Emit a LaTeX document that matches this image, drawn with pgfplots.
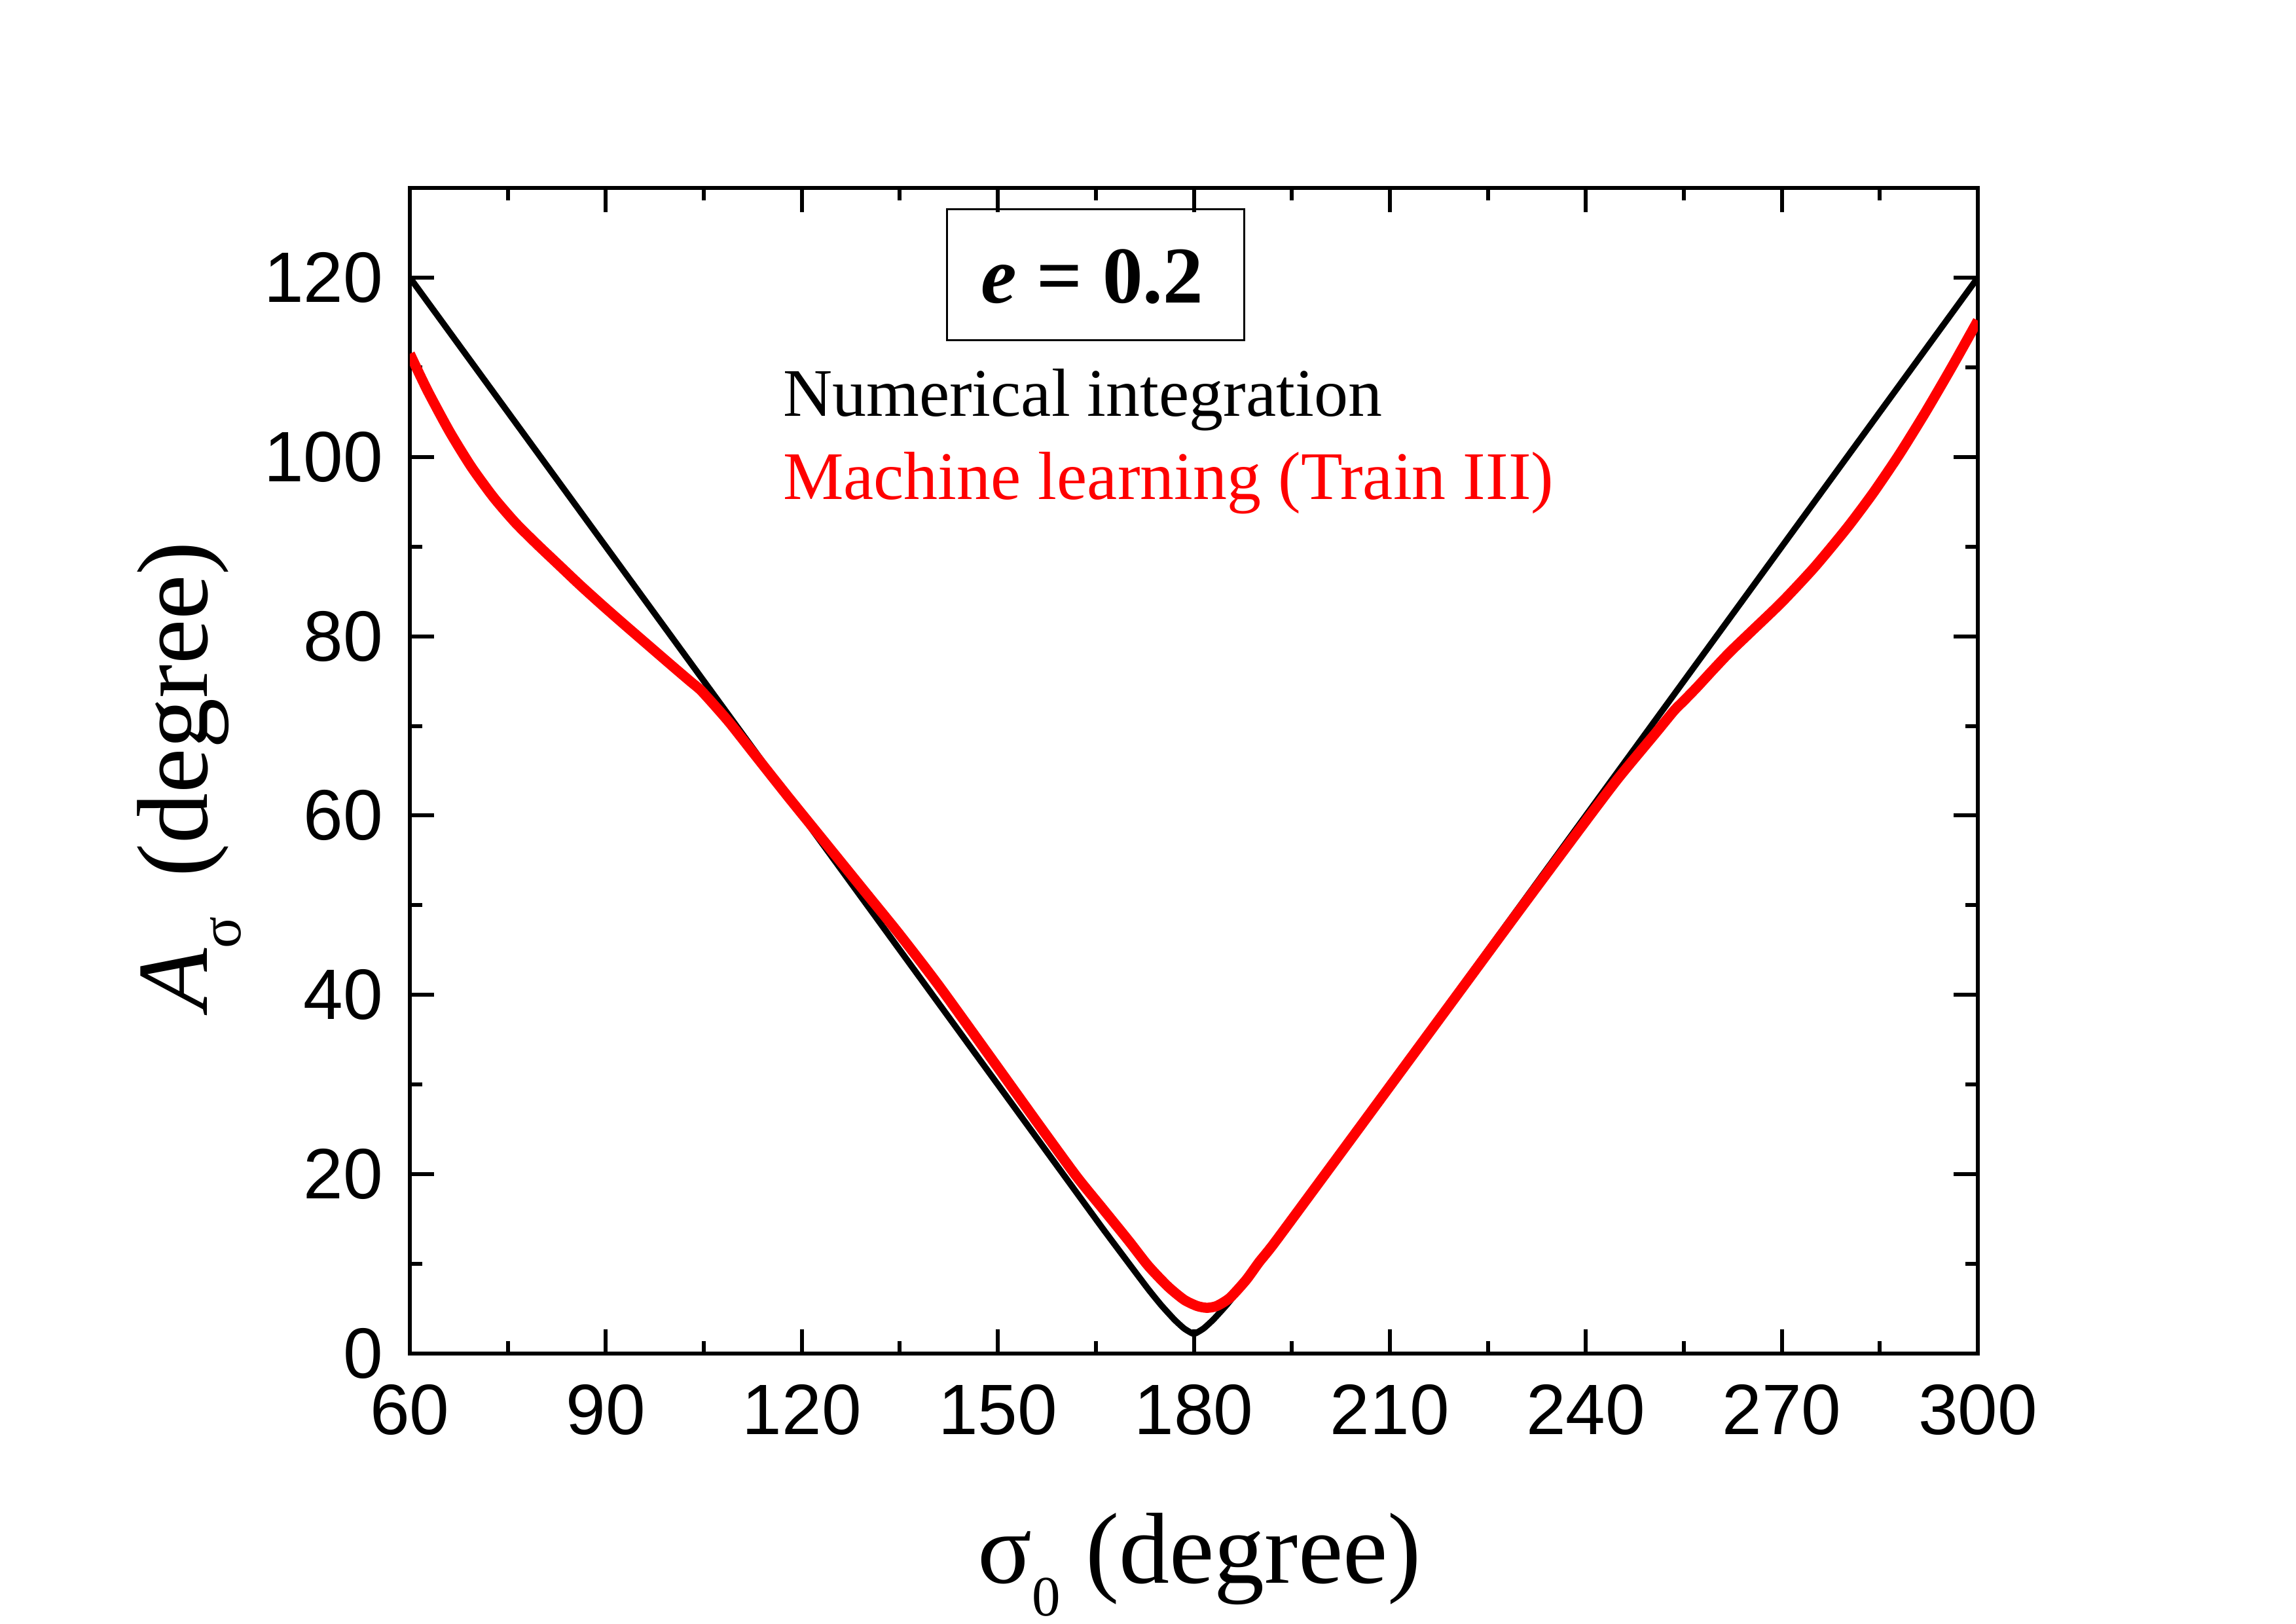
\documentclass[border=0pt]{standalone}
\usepackage{fontspec}
\setmainfont{Liberation Serif}
\newfontfamily\arialfont{Liberation Sans}
\usepackage{pgfplots}
\pgfplotsset{compat=1.18}
\definecolor{mlred}{RGB}{255,0,0}
\begin{document}
\begin{tikzpicture}
\path[use as bounding box] (0,0) rectangle (350.7pt,248pt);
\begin{axis}[
  at={(62.6pt,41.3pt)}, anchor=south west,
  width=239.5pt, height=178pt, scale only axis,
  xmin=60, xmax=300, ymin=0, ymax=130,
  xtick={60,90,...,300}, ytick={0,20,...,120},
  minor xtick={75,105,...,285}, minor ytick={10,30,...,110},
  tick align=inside, major tick length=3.7pt, minor tick length=1.9pt,
  axis line style={line width=0.65pt},
  every tick/.append style={black, line width=0.6pt},
  ticklabel style={font=\arialfont\fontsize{10.9}{12}\selectfont},
  /pgf/number format/assume math mode=true,
  xticklabel style={inner sep=0pt, anchor=north, yshift=-4.5pt},
  yticklabel style={inner sep=0pt, anchor=east, xshift=-3.9pt},
]
\addplot[black, line width=0.95pt, smooth, tension=0.3] coordinates {
(60,120) (70,110) (80,100) (90,90) (100,80) (110,70) (120,60) (130,50)
(140,40) (150,30) (160,20) (166,14) (170,10.1) (173,7.2) (175,5.4)
(177,3.8) (178.5,2.8) (180,2.2) (181.5,2.8) (183,3.8) (185,5.4) (187,7.2)
(190,10.1) (194,14) (200,20) (210,30) (220,40) (230,50) (240,60) (250,70)
(260,80) (270,90) (280,100) (290,110) (300,120)
};
\addplot[mlred, line width=1.55pt, smooth, tension=0.4] coordinates {
(60,111.5) (62.7,107.4) (66.1,102.8) (69.4,98.9) (72.8,95.5) (76.1,92.7)
(79.4,90.3) (82.8,87.95) (86.1,85.67) (89.5,83.43) (92.8,81.32) (96.1,79.24)
(100.2,76.66) (103,74.92) (104.5,74.0) (106.5,72.4) (109,70.3) (113,66.6)
(118,62.0) (123,57.5) (130,51.2) (135,46.7) (141,41.0) (150,31.9)
(156,25.8) (162,19.8) (166,16.2) (170,12.6) (173,9.8) (176,7.5)
(178.5,6.0) (180.5,5.3) (182,5.1) (183.5,5.3) (185.5,6.2) (188,8.2)
(190,10.2) (192.3,12.3) (200,19.9) (210,29.8) (220,39.7) (230,49.6)
(240,59.4) (245,64.2) (250.8,69.3) (253.5,71.7) (255,72.8) (257,74.3)
(259.4,76.2) (262,78.2) (265,80.3) (270,83.8) (275,87.7) (280,92.1)
(284,96.0) (288,100.3) (292,105.0) (296,110.0) (300,115.2)
};
\end{axis}
% e = 0.2 box
\draw[line width=0.3pt] (144.6pt,196.0pt) rectangle (190.0pt,216.0pt);
\node[anchor=base, inner sep=0pt] at (166.8pt,201.7pt)
  {\fontsize{12.3}{14}\selectfont\bfseries\itshape e\upshape\ = 0.2};
% legend-like texts
\node[anchor=base west, inner sep=0pt] at (119.4pt,184.4pt)
  {\fontsize{10.4}{12}\selectfont Numerical integration};
\node[anchor=base west, inner sep=0pt, text=mlred] at (119.4pt,171.7pt)
  {\fontsize{10.4}{12}\selectfont Machine learning (Train III)};
% axis labels
\node[anchor=base, inner sep=0pt] at (183.2pt,6.2pt)
  {\fontsize{15.4}{18}\selectfont σ\raisebox{-5pt}{\fontsize{8.7}{10}\selectfont 0} (degree)};
\node[anchor=base, inner sep=0pt, rotate=90] at (31.7pt,129.5pt)
  {\fontsize{15.4}{18}\selectfont \textit{A}\raisebox{-5.1pt}{\fontsize{9}{10}\selectfont σ}\hspace{6pt}(degree)};
\end{tikzpicture}
\end{document}
